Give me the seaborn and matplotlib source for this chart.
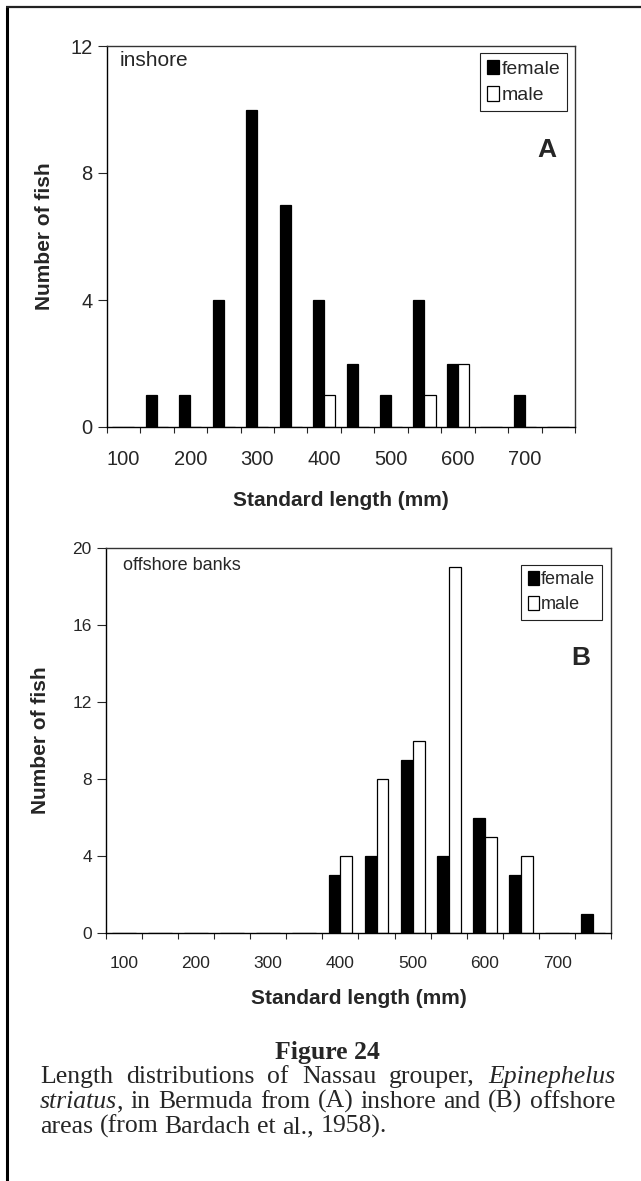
import numpy as np
import pandas as pd
import matplotlib
matplotlib.use("Agg")
import matplotlib.pyplot as plt
from matplotlib.patches import Patch
from matplotlib.lines import Line2D
import seaborn as sns

# 50-mm standard-length classes (lower bound of each class)
length_bins = [100, 150, 200, 250, 300, 350, 400, 450, 500, 550, 600, 650, 700, 750]
tick_labels = ["100", "200", "300", "400", "500", "600", "700"]
sexes = ["female", "male"]

# Panel A: inshore
inshore_female = [0, 1, 1, 4, 10, 7, 4, 2, 1, 4, 2, 0, 1, 0]
inshore_male = [0, 0, 0, 0, 0, 0, 1, 0, 0, 1, 2, 0, 0, 0]

# Panel B: offshore banks
offshore_female = [0, 0, 0, 0, 0, 0, 3, 4, 9, 4, 6, 3, 0, 1]
offshore_male = [0, 0, 0, 0, 0, 0, 4, 8, 10, 19, 5, 4, 0, 0]

sns.set_style("ticks")
plt.rcParams["font.family"] = ["Liberation Sans", "DejaVu Sans"]

W, H = 641, 1181
fig = plt.figure(figsize=(W / 100, H / 100), dpi=100)
fig.patch.set_facecolor("white")


def px_rect(left, top, right, bottom):
    return [left / W, 1 - bottom / H, (right - left) / W, (bottom - top) / H]


def long_table(female, male):
    cats = [str(v) for v in length_bins]
    return pd.DataFrame({
        "length": cats + cats,
        "sex": ["female"] * len(cats) + ["male"] * len(cats),
        "count": list(female) + list(male),
    })


def draw_panel(ax, df, ymax, yticks, tick_fs, site, site_fs, letter,
               legend_anchor, legend_fs, xlabel_y, ylabel_x, xpad):
    order = [str(v) for v in length_bins]
    sns.barplot(data=df, x="length", y="count", hue="sex", order=order,
                hue_order=sexes, palette={"female": "black", "male": "white"},
                saturation=1, edgecolor="black", linewidth=0.9, width=0.66,
                errorbar=None, legend=False, ax=ax)
    n = len(order)
    ax.set_xlim(-0.5, n - 0.5)
    ax.set_ylim(0, ymax)
    ax.set_yticks(yticks)
    ax.set_yticklabels([str(v) for v in yticks], fontsize=tick_fs)
    # tick marks sit on class boundaries, labels on every second class
    bounds = np.arange(-0.5, n, 1.0)
    ax.set_xticks(bounds, [""] * len(bounds))
    ax.set_xticks(np.arange(0, n, 2), tick_labels, minor=True, fontsize=tick_fs)
    ax.tick_params(axis="x", which="major", direction="out", length=4.5, width=0.8)
    ax.tick_params(axis="x", which="minor", length=0, pad=xpad)
    ax.tick_params(axis="y", direction="out", length=6.5, width=0.8, pad=3.5)
    for side, sp in ax.spines.items():
        sp.set_visible(True)
        sp.set_linewidth(1.0)
        sp.set_color("black" if side in ("left", "bottom") else "#333333")

    ax.set_xlabel("Standard length (mm)", fontsize=15, fontweight="bold")
    ax.set_ylabel("Number of fish", fontsize=15, fontweight="bold")
    ax.xaxis.label.set_va("center")
    ax.yaxis.label.set_va("center")
    ax.xaxis.set_label_coords(0.5, xlabel_y)
    ax.yaxis.set_label_coords(ylabel_x, 0.5)

    ax.text(site[0], site[1], site[2], transform=ax.transAxes, fontsize=site_fs,
            ha="left", va="center")
    ax.text(letter[0], letter[1], letter[2], transform=ax.transAxes, fontsize=19,
            fontweight="bold", ha="center", va="center")

    handles = [Patch(facecolor="black", edgecolor="black", linewidth=0.9, label="female"),
               Patch(facecolor="white", edgecolor="black", linewidth=0.9, label="male")]
    leg = ax.legend(handles=handles, loc="upper right", bbox_to_anchor=legend_anchor,
                    borderaxespad=0, frameon=True, fancybox=False, framealpha=1,
                    edgecolor="#222222", fontsize=legend_fs, handlelength=0.6,
                    handleheight=0.75, handletextpad=0.15, labelspacing=0.45,
                    borderpad=0.35)
    leg.get_frame().set_linewidth(0.8)


ax_a = fig.add_axes(px_rect(106.7, 46, 575, 427))
ax_b = fig.add_axes(px_rect(105.7, 548, 611.3, 933))

draw_panel(ax_a, long_table(inshore_female, inshore_male), 12, [0, 4, 8, 12],
           14.5, (0.027, 0.962, "inshore"), 15, (0.94, 0.727, "A"),
           (0.983, 0.982), 14, -0.192, -0.132, 16.5)
draw_panel(ax_b, long_table(offshore_female, offshore_male), 20, [0, 4, 8, 12, 16, 20],
           12.5, (0.035, 0.955, "offshore banks"), 13, (0.94, 0.714, "B"),
           (0.981, 0.956), 13, -0.17, -0.128, 16.5)

# page frame (left and top rules)
fig.add_artist(Line2D([7 / W, 7 / W], [0, 1 - 7 / H], transform=fig.transFigure,
                      color="black", linewidth=2.2, solid_capstyle="butt"))
fig.add_artist(Line2D([6 / W, 1], [1 - 7 / H, 1 - 7 / H], transform=fig.transFigure,
                      color="#222222", linewidth=1.6, solid_capstyle="butt"))

# caption
serif = ["Liberation Serif", "DejaVu Serif"]
cap_fs = 18.5
fig.text(327 / W, 1 - 1059 / H, "Figure 24", fontsize=cap_fs, fontweight="bold",
         family=serif, ha="center", va="baseline")

caption_lines = [
    [[("Length", "normal")], [("distributions", "normal")], [("of", "normal")],
     [("Nassau", "normal")], [("grouper,", "normal")], [("Epinephelus", "italic")]],
    [[("striatus", "italic"), (",", "normal")], [("in", "normal")], [("Bermuda", "normal")],
     [("from", "normal")], [("(A)", "normal")], [("inshore", "normal")], [("and", "normal")],
     [("(B)", "normal")], [("offshore", "normal")]],
    [[("areas", "normal")], [("(from", "normal")], [("Bardach", "normal")],
     [("et", "normal")], [("al.,", "normal")], [("1958).", "normal")]],
]
baselines = [1083, 1108, 1133]
x_left, x_right = 40, 615

fig.canvas.draw()
renderer = fig.canvas.get_renderer()
probe = fig.text(0, 0, "a a", fontsize=cap_fs, family=serif)
probe2 = fig.text(0, 0, "aa", fontsize=cap_fs, family=serif)
space_w = probe.get_window_extent(renderer).width - probe2.get_window_extent(renderer).width
probe.remove()
probe2.remove()

for li, (words, base) in enumerate(zip(caption_lines, baselines)):
    word_texts = []
    widths = []
    for segs in words:
        parts = []
        w = 0.0
        for txt, style in segs:
            t = fig.text(0, 1 - base / H, txt, fontsize=cap_fs, family=serif,
                         style=style, ha="left", va="baseline")
            pw = t.get_window_extent(renderer).width
            parts.append((t, w))
            w += pw
        word_texts.append(parts)
        widths.append(w)
    last = li == len(caption_lines) - 1
    if last:
        gap = space_w
    else:
        gap = (x_right - x_left - sum(widths)) / (len(words) - 1)
    x = x_left
    for parts, w in zip(word_texts, widths):
        for t, off in parts:
            t.set_x((x + off) / W)
        x += w + gap

fig.savefig("out.png", dpi=100, facecolor="white")
